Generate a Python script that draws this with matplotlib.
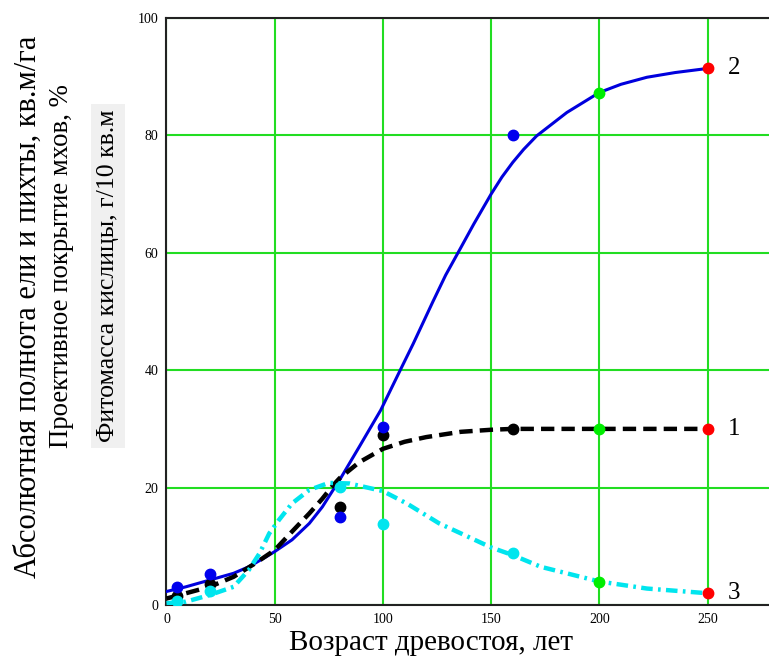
import numpy as np
import matplotlib
matplotlib.use("Agg")
import matplotlib.pyplot as plt

# fitted curves
x_blue = [0, 9, 20, 31, 38, 46, 50, 58, 66, 72, 77, 80, 89, 99, 108, 114, 123, 129, 135, 142, 150,
          155, 160, 165, 171, 185, 200, 210, 222, 235, 250]
y_blue = [2.3, 3.1, 4.25, 5.4, 6.5, 8.2, 9.1, 11.1, 13.9, 16.7, 19.6, 21.3, 26.9, 33.2, 40.0, 44.5,
          51.6, 56.2, 60.2, 64.9, 70.0, 72.9, 75.4, 77.6, 79.9, 83.9, 87.3, 88.7, 89.9, 90.7, 91.4]

x_black = [0, 9, 20, 31, 41, 50, 58, 66, 72, 77, 80, 89, 100, 110, 120, 136, 150, 160, 200, 250]
y_black = [1.1, 2.0, 3.1, 4.8, 7.1, 9.35, 12.5, 15.6, 18.1, 20.4, 21.6, 24.3, 26.6, 27.8, 28.6,
           29.5, 29.85, 30.0, 30.0, 30.0]

x_cyan = [0, 9, 20, 31, 38, 43, 47.5, 52, 58, 66, 75, 84.5, 100, 111, 126, 136, 150, 160, 173,
          200, 222, 250]
y_cyan = [0.3, 0.57, 1.7, 3.1, 5.95, 8.8, 12.2, 14.5, 17.3, 19.6, 20.8, 20.7, 19.4, 17.3, 13.9,
          12.2, 9.8, 8.5, 6.5, 4.0, 2.8, 2.0]

# measured points
x_pts = [5, 20, 80, 100, 160]
black_pts = [1.5, 3.5, 16.7, 28.9, 30.0]
blue_pts = [3.0, 5.3, 15.0, 30.3, 80.0]
cyan_pts = [0.7, 2.3, 20.1, 13.8, 8.8]

x_green, x_red = 200, 250
green_pts = [30.0, 87.3, 4.0]   # black, blue, cyan
red_pts = [30.0, 91.4, 2.0]

curve_labels = ["1", "2", "3"]

serif = "Liberation Serif"

fig = plt.figure(figsize=(7.69, 6.63), dpi=100)
ax = fig.add_axes([0.2165, 0.0875, 0.7835, 0.8854])

ax.plot(x_blue, y_blue, color="#0000dd", lw=2.2, zorder=3)
ax.plot(x_black, y_black, color="black", lw=3.2, dashes=(3.0, 1.6), zorder=3)
ax.plot(x_cyan, y_cyan, color="#00e5ee", lw=3.2, dashes=(2.6, 1.2, 0.6, 1.2), zorder=3)

ax.plot(x_pts, black_pts, "o", color="black", ms=7.5, zorder=4)
ax.plot(x_pts, blue_pts, "o", color="#0000ee", ms=7.5, zorder=4)
ax.plot(x_pts, cyan_pts, "o", color="#00e5ee", ms=7.5, zorder=4)
ax.plot([x_green] * 3, green_pts, "o", color="#00ee00", ms=7.5, zorder=5)
ax.plot([x_red] * 3, red_pts, "o", color="#ff0000", ms=7.5, zorder=5)

for lab, yv in zip(curve_labels, red_pts):
    ax.text(259.5, yv, lab, fontsize=18, family=serif, va="center", ha="left")

ax.set_xlim(0, 278.4)
ax.set_ylim(0, 100)
ax.set_xticks([0, 50, 100, 150, 200, 250])
ax.set_yticks([0, 20, 40, 60, 80, 100])
ax.grid(True, color="#22dd22", lw=1.5)
ax.set_axisbelow(True)
ax.tick_params(length=0, labelsize=10)
ax.tick_params(axis="y", pad=6)
ax.tick_params(axis="x", pad=6)
for t in ax.get_xticklabels() + ax.get_yticklabels():
    t.set_family(serif)

for s in ["left", "bottom", "top"]:
    ax.spines[s].set_color("#222222")
    ax.spines[s].set_linewidth(1.5)
ax.spines["right"].set_visible(False)

ax.set_xlabel("Возраст древостоя, лет", fontsize=21, family=serif)
ax.xaxis.set_label_coords(0.439, -0.042)

fig.text(0.0364, 0.537, "Абсолютная полнота ели и пихты, кв.м/га", rotation=90,
         fontsize=22, family=serif, ha="center", va="center")
fig.text(0.0806, 0.599, "Проективное покрытие мхов, %", rotation=90,
         fontsize=19.3, family=serif, ha="center", va="center")
fig.text(0.1404, 0.584, "Фитомасса кислицы, г/10 кв.м", rotation=90,
         fontsize=18.6, family=serif, ha="center", va="center",
         bbox=dict(facecolor="#f0f0f0", edgecolor="none", pad=4))

fig.savefig("out.png", dpi=100)
